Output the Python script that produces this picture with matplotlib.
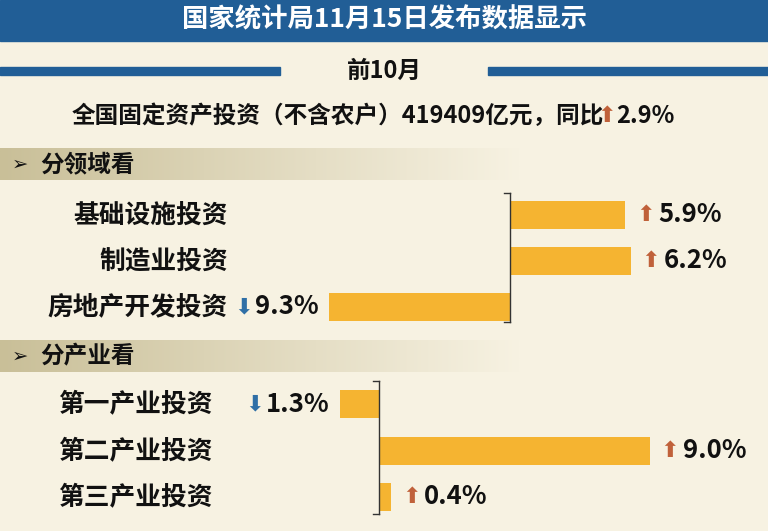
import matplotlib
matplotlib.use("Agg")
import matplotlib.pyplot as plt
import numpy as np
from matplotlib.patches import Rectangle
from matplotlib.colors import LinearSegmentedColormap

plt.rcParams["font.family"] = "Noto Sans CJK SC"

title = "国家统计局11月15日发布数据显示"
period = "前10月"
headline = "全国固定资产投资（不含农户）419409亿元，同比"
headline_val = 2.9
sec1 = "分领域看"
cats1 = ["基础设施投资", "制造业投资", "房地产开发投资"]
vals1 = [5.9, 6.2, -9.3]
sec2 = "分产业看"
cats2 = ["第一产业投资", "第二产业投资", "第三产业投资"]
vals2 = [-1.3, 9.0, 0.4]

W, H = 768, 531
BG = "#f7f2e2"
BLUE = "#215e96"
BAR = "#f5b431"
UP = "#c0613a"
DOWN = "#2f6fa6"
LF = 18.5

fig = plt.figure(figsize=(W/100, H/100), dpi=100, facecolor=BG)
bg = fig.add_axes([0, 0, 1, 1])
bg.set_xlim(0, W); bg.set_ylim(H, 0); bg.axis("off")
bg.set_facecolor(BG)

bg.add_patch(Rectangle((0, 0), W, 41, color=BLUE))
bg.text(W/2, 20, title, color="white", fontsize=19, fontweight="bold", ha="center", va="center")
bg.add_patch(Rectangle((0, 67), 280, 8, color=BLUE))
bg.add_patch(Rectangle((488, 67), 280, 8, color=BLUE))
bg.text(384, 71, period, fontsize=17, fontweight="bold", ha="center", va="center", color="#111")
bg.text(72, 116, headline, fontsize=17, fontweight="bold", ha="left", va="center", color="#111")
bg.text(607, 116, "⬆", fontsize=16, color=UP, ha="center", va="center", fontfamily="DejaVu Sans")
bg.text(616, 116, f"{headline_val}%", fontsize=17, fontweight="bold", ha="left", va="center", color="#111")

grad = np.linspace(0, 1, 256)[None, :]
cm = LinearSegmentedColormap.from_list("g", ["#c9bf98", BG])
for y0, txt in [(148, sec1), (340, sec2)]:
    bg.imshow(grad, extent=(0, 520, y0 + 32, y0), cmap=cm, aspect="auto", zorder=0)
    bg.text(12, y0 + 16, "➢", fontsize=14, va="center", ha="left", color="#111", fontfamily="DejaVu Sans")
    bg.text(40, y0 + 16, txt, fontsize=17, fontweight="bold", va="center", ha="left", color="#111")

def group(cats, vals, zero_px, ppu, rows, label_right, bracket):
    ax = fig.add_axes([0, 0, 1, 1])
    ax.patch.set_alpha(0)
    ax.set_xlim(-zero_px/ppu, (W-zero_px)/ppu)
    ax.set_ylim(H, 0)
    ax.axis("off")
    ax.barh(rows, vals, height=28, color=BAR, zorder=2)
    for c, v, y in zip(cats, vals, rows):
        bg.text(label_right, y, c, fontsize=LF, fontweight="bold", ha="right", va="center", color="#111")
        arrow = "⬆" if v > 0 else "⬇"
        col = UP if v > 0 else DOWN
        if v > 0:
            ax.annotate(arrow, (v, y), xytext=(20, 0), textcoords="offset pixels",
                        fontsize=16, color=col, ha="center", va="center", fontfamily="DejaVu Sans")
            ax.annotate(f"{abs(v):.1f}%", (v, y), xytext=(33, 0), textcoords="offset pixels",
                        fontsize=LF, fontweight="bold", ha="left", va="center", color="#111")
        else:
            ax.annotate(f"{abs(v):.1f}%", (v, y), xytext=(-10, 0), textcoords="offset pixels",
                        fontsize=LF, fontweight="bold", ha="right", va="center", color="#111")
            ax.annotate(arrow, (v, y), xytext=(-85, 0), textcoords="offset pixels",
                        fontsize=16, color=col, ha="center", va="center", fontfamily="DejaVu Sans")
    y0, y1 = bracket
    ax.plot([0, 0], [y0, y1], color="#333", lw=1, zorder=3)
    ax.plot([0, -6/ppu], [y0, y0], color="#333", lw=1, zorder=3)
    ax.plot([0, -6/ppu], [y1, y1], color="#333", lw=1, zorder=3)

group(cats1, vals1, 510, 19.5, [215, 261, 307], 228, (193, 322))
group(cats2, vals2, 379, 30.1, [404, 451, 497], 213, (381, 514))

fig.savefig("out.png", dpi=100, facecolor=BG)
